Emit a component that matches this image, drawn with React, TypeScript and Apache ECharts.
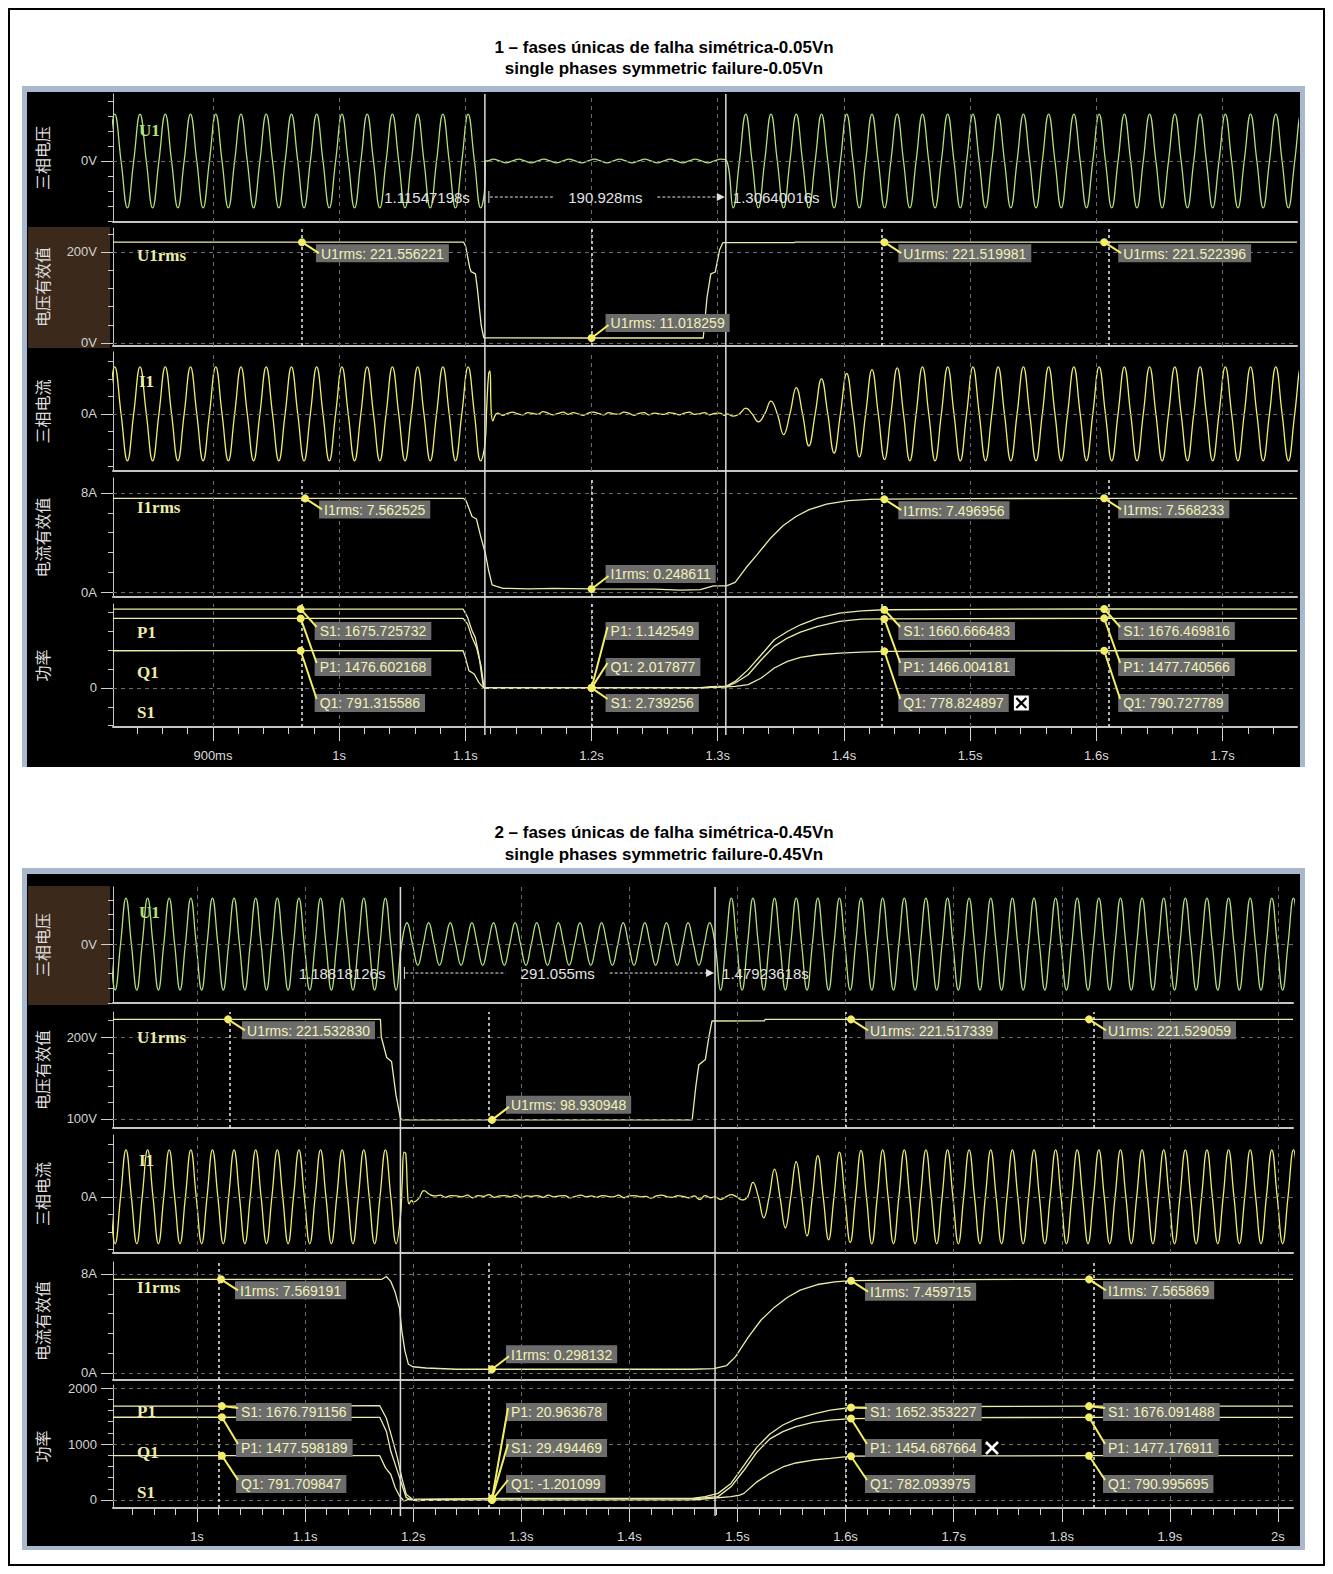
import React, { useEffect, useRef } from "react";
import * as echarts from "echarts";

type Pt = [number, number];
interface Piece { from: number; to: number; crests: number[] }

/* ================= Scope A : symmetric dip to 0.05 Vn ================= */
const A_TITLE = ["1 – fases únicas de falha simétrica-0.05Vn", "single phases symmetric failure-0.05Vn"];
const A_TIME_MIN = 0.8208;
const A_TIME_MAX = 1.759;
const A_MAJOR_TICKS = [0.9, 1.0, 1.1, 1.2, 1.3, 1.4, 1.5, 1.6, 1.7];
const A_MAJOR_LABELS = ["900ms", "1s", "1.1s", "1.2s", "1.3s", "1.4s", "1.5s", "1.6s", "1.7s"];
const A_CURSORS = [1.11547198, 1.30640016];
const A_CURSOR_LABELS = ["1.11547198s", "190.928ms", "1.30640016s"];
const A_CREST0 = 0.8222;

// phase voltage U1: crest magnitude per half cycle (V)
const A_U1_PIECES: Piece[] = [
  { from: 0.81, to: 1.1155, crests: [313] },
  { from: 1.1158, to: 1.3064, crests: [12] },
  { from: 1.3064, to: 1.77, crests: [313] },
];
const A_U1_EDGES: Pt[] = [[1.1155, -160], [1.1158, 0]];

// phase current I1 (A)
const A_I1_PIECES: Piece[] = [
  { from: 0.81, to: 1.1145, crests: [10.7] },
  { from: 1.3064, to: 1.77, crests: [0.5, 1.3, 1.8, 2.9, 4.7, 6.0, 7.3, 8.0, 8.9, 9.2, 9.8, 10.1, 10.4, 10.5, 10.7] },
];
const A_I1_EDGES: Pt[] = [[1.1155, -7], [1.117, 2], [1.1185, 9.2], [1.1195, 9.8], [1.1205, 0.6], [1.1218, -1.6], [1.1235, -0.4]];
const A_I1_FAULT_START = 1.1255;
const A_I1_FAULT_STEP = 0.004;
const A_I1_FAULT = [0.2, -0.3, 0.1, 0.4, 0.0, -0.2, 0.3, 0.1, -0.1, 0.5, 0.2, -0.2, 0.1, 0.4, -0.1, 0.3, 0.0, -0.3, 0.2, 0.4, 0.1, -0.2, 0.3, 0.0, -0.1, 0.4, 0.2, -0.3, 0.1, 0.3, -0.2, 0.2, 0.0, -0.1, 0.3, 0.1, -0.2, 0.2, 0.4, -0.1, 0.0, 0.3, -0.2, 0.1, 0.2, -0.3];

const A_U1RMS: Pt[] = [
  [0.8208, 221.55], [0.9705, 221.556221], [1.0987, 221.55], [1.1003, 212], [1.1035, 165], [1.1045, 157], [1.108, 152],
  [1.1095, 120], [1.1125, 40], [1.1146, 11.5], [1.2, 11.018259], [1.2885, 11.0], [1.2915, 100], [1.2945, 152],
  [1.298, 156], [1.3015, 205], [1.304, 220.5], [1.3605, 220.6], [1.3615, 221.5], [1.432, 221.519981],
  [1.6062, 221.522396], [1.759, 221.52],
];
const A_I1RMS: Pt[] = [
  [0.8208, 7.56], [0.973, 7.562525], [1.0985, 7.56], [1.1005, 7.4], [1.1053, 6.1], [1.1088, 5.9], [1.1124, 4.4],
  [1.1159, 3.1], [1.1184, 1.76], [1.1212, 0.58], [1.1247, 0.45], [1.13, 0.3], [1.15, 0.26], [1.17, 0.3], [1.2, 0.248611],
  [1.25, 0.24], [1.27, 0.15], [1.2862, 0.2], [1.2966, 0.5], [1.3069, 0.5], [1.3138, 0.78], [1.3224, 1.96], [1.331, 3.0],
  [1.3414, 4.3], [1.3517, 5.35], [1.362, 6.1], [1.3724, 6.65], [1.3862, 7.1], [1.4034, 7.38], [1.4206, 7.48],
  [1.432, 7.496956], [1.5, 7.55], [1.6062, 7.568233], [1.759, 7.566],
];
const A_S1: Pt[] = [
  [0.8208, 1676], [0.9695, 1675.725732], [1.0982, 1676], [1.1018, 1499], [1.1053, 1216], [1.1078, 1075], [1.1106, 721],
  [1.1141, 50], [1.1159, 0], [1.2, 2.739256], [1.2862, 5], [1.295, 30], [1.3069, 40], [1.3138, 140], [1.3241, 390],
  [1.3345, 706], [1.3448, 1024], [1.3552, 1200], [1.3655, 1342], [1.3793, 1483], [1.3965, 1589], [1.4138, 1638],
  [1.432, 1660.666483], [1.5, 1670], [1.6062, 1676.469816], [1.759, 1676],
];
const A_P1: Pt[] = [
  [0.8208, 1477], [0.9695, 1476.602168], [1.0982, 1477], [1.1018, 1357], [1.1053, 1075], [1.1088, 862], [1.1124, 474],
  [1.1148, 10], [1.116, 0], [1.2, 1.142549], [1.2862, 3], [1.3069, 30], [1.3138, 106], [1.3241, 282], [1.3345, 600],
  [1.3448, 883], [1.3552, 1060], [1.3655, 1186], [1.3793, 1306], [1.3965, 1412], [1.4138, 1462], [1.432, 1466.004181],
  [1.5, 1474], [1.6062, 1477.740566], [1.759, 1477],
];
const A_Q1: Pt[] = [
  [0.8208, 791], [0.9695, 791.315586], [1.0982, 791], [1.1, 650], [1.1028, 368], [1.107, 297], [1.1106, 120],
  [1.1141, 14], [1.116, 0], [1.2, 2.017877], [1.2862, 2], [1.3069, 25], [1.3138, 35], [1.3241, 70], [1.3345, 212],
  [1.3448, 424], [1.3552, 565], [1.3655, 650], [1.3793, 706], [1.3965, 741], [1.4138, 763], [1.432, 778.824897],
  [1.5, 786], [1.6062, 790.727789], [1.759, 791],
];

// cursor readouts
const A_U1RMS_MARK_T = [0.9705, 1.2, 1.432, 1.6062];
const A_U1RMS_MARK_V = [221.556221, 11.018259, 221.519981, 221.522396];
const A_I1RMS_MARK_T = [0.973, 1.2, 1.432, 1.6062];
const A_I1RMS_MARK_V = [7.562525, 0.248611, 7.496956, 7.568233];
const A_PWR_MARK_T = [0.9695, 1.2, 1.432, 1.6062];
const A_S1_MARK = [1675.725732, 2.739256, 1660.666483, 1676.469816];
const A_P1_MARK = [1476.602168, 1.142549, 1466.004181, 1477.740566];
const A_Q1_MARK = [791.315586, 2.017877, 778.824897, 790.727789];
const A_PWR_ORDER = [["S1", "P1", "Q1"], ["P1", "Q1", "S1"], ["S1", "P1", "Q1"], ["S1", "P1", "Q1"]];

/* ================= Scope B : symmetric dip to 0.45 Vn ================= */
const B_TITLE = ["2 – fases únicas de falha simétrica-0.45Vn", "single phases symmetric failure-0.45Vn"];
const B_TIME_MIN = 0.9223;
const B_TIME_MAX = 2.0139;
const B_MAJOR_TICKS = [1.0, 1.1, 1.2, 1.3, 1.4, 1.5, 1.6, 1.7, 1.8, 1.9, 2.0];
const B_MAJOR_LABELS = ["1s", "1.1s", "1.2s", "1.3s", "1.4s", "1.5s", "1.6s", "1.7s", "1.8s", "1.9s", "2s"];
const B_CURSORS = [1.18818126, 1.47923618];
const B_CURSOR_LABELS = ["1.18818126s", "291.055ms", "1.47923618s"];
const B_CREST0 = 0.9343;

const B_U1_PIECES: Piece[] = [
  { from: 0.91, to: 1.1882, crests: [313] },
  { from: 1.1882, to: 1.4792, crests: [145] },
  { from: 1.4792, to: 2.03, crests: [313] },
];
const B_U1_EDGES: Pt[] = [];

const B_I1_PIECES: Piece[] = [
  { from: 0.91, to: 1.1882, crests: [10.7] },
  { from: 1.4792, to: 2.03, crests: [0.6, 0.5, 0.7, 3.3, 4.8, 6.3, 7.1, 8.0, 8.9, 9.4, 9.8, 10.2, 10.4, 10.6, 10.7] },
];
const B_I1_EDGES: Pt[] = [[1.1882, -4.5], [1.1898, 3], [1.1915, 10.2], [1.1932, 9.8], [1.1948, 1.0], [1.1962, -1.6], [1.1985, -0.8]];
const B_I1_FAULT_START = 1.2;
const B_I1_FAULT_STEP = 0.005;
const B_I1_FAULT = [-1.2, -0.4, 1.4, 0.6, 0.2, 0.4, -0.1, 0.3, 0.2, 0.0, 0.4, -0.2, 0.3, 0.1, 0.5, -0.1, 0.2, 0.3, 0.0, 0.4, -0.2, 0.2, 0.1, 0.3, -0.1, 0.4, 0.0, 0.2, 0.3, -0.2, 0.1, 0.4, 0.0, 0.2, -0.1, 0.3, 0.1, 0.0, 0.4, -0.2, 0.2, 0.3, 0.0, 0.1, -0.3, 0.2, 0.4, 0.0, -0.1, 0.3, 0.1, -0.2, 0.2, -0.6, 0.3, -0.2];

const B_U1RMS: Pt[] = [
  [0.9223, 221.53], [1.0287, 221.53283], [1.1697, 221.5], [1.1705, 200], [1.1755, 175], [1.18, 170], [1.1841, 129],
  [1.1882, 101], [1.19, 99], [1.2729, 98.930948], [1.4581, 99], [1.4615, 140], [1.4642, 166], [1.4703, 172.5],
  [1.4735, 200], [1.4764, 219.5], [1.525, 219.6], [1.5255, 221.5], [1.605, 221.517339], [1.8252, 221.529059],
  [2.0139, 221.52],
];
const B_I1RMS: Pt[] = [
  [0.9223, 7.57], [1.0222, 7.569191], [1.1711, 7.57], [1.1752, 7.8], [1.1793, 7.4], [1.1834, 6.5], [1.1874, 5.2],
  [1.1895, 3.4], [1.1923, 1.8], [1.1956, 0.7], [1.1997, 0.5], [1.2119, 0.4], [1.24, 0.3], [1.2729, 0.298132],
  [1.458, 0.3], [1.478, 0.35], [1.49, 0.6], [1.498, 1.3], [1.51, 2.9], [1.522, 4.3], [1.534, 5.3], [1.546, 6.1],
  [1.558, 6.7], [1.574, 7.15], [1.59, 7.36], [1.605, 7.459715], [1.7, 7.55], [1.8252, 7.565869], [2.0139, 7.566],
];
const B_S1: Pt[] = [
  [0.9223, 1676.8], [1.0231, 1676.791156], [1.1691, 1684], [1.1752, 1461], [1.1813, 1047], [1.1854, 751], [1.1895, 396],
  [1.1936, 100], [1.1976, 40], [1.1997, 0], [1.205, -15], [1.21, 5], [1.2729, 29.494469], [1.458, 30], [1.47, 59],
  [1.482, 118], [1.494, 295], [1.506, 619], [1.518, 944], [1.53, 1180], [1.542, 1339], [1.554, 1445], [1.57, 1534],
  [1.586, 1605], [1.605, 1652.353227], [1.7, 1670], [1.8252, 1676.091488], [2.0139, 1676],
];
const B_P1: Pt[] = [
  [0.9223, 1477.6], [1.0231, 1477.598189], [1.1691, 1477], [1.1752, 1225], [1.1793, 870], [1.1854, 515], [1.1895, 278],
  [1.1936, 41], [1.1976, 10], [1.205, 15], [1.2729, 20.963678], [1.458, 20], [1.482, 60], [1.494, 236], [1.506, 531],
  [1.518, 855], [1.53, 1091], [1.542, 1221], [1.554, 1310], [1.57, 1386], [1.586, 1428], [1.605, 1454.687664],
  [1.7, 1470], [1.8252, 1477.176911], [2.0139, 1477],
];
const B_Q1: Pt[] = [
  [0.9223, 791.7], [1.0231, 791.709847], [1.1691, 791], [1.1744, 574], [1.1793, 455], [1.1834, 219], [1.1874, 71],
  [1.1915, -18], [1.1956, 10], [1.2, -5], [1.2729, -1.201099], [1.458, 0], [1.494, 59], [1.502, 88], [1.506, 118],
  [1.518, 324], [1.53, 472], [1.542, 590], [1.554, 661], [1.57, 714], [1.586, 743], [1.605, 782.093975], [1.7, 788],
  [1.8252, 790.995695], [2.0139, 791],
];

const B_U1RMS_MARK_T = [1.0287, 1.2729, 1.605, 1.8252];
const B_U1RMS_MARK_V = [221.53283, 98.930948, 221.517339, 221.529059];
const B_I1RMS_MARK_T = [1.0222, 1.2729, 1.605, 1.8252];
const B_I1RMS_MARK_V = [7.569191, 0.298132, 7.459715, 7.565869];
const B_PWR_MARK_T = [1.0231, 1.2729, 1.605, 1.8252];
const B_S1_MARK = [1676.791156, 29.494469, 1652.353227, 1676.091488];
const B_P1_MARK = [1477.598189, 20.963678, 1454.687664, 1477.176911];
const B_Q1_MARK = [791.709847, -1.201099, 782.093975, 790.995695];
const B_PWR_ORDER = [["S1", "P1", "Q1"], ["P1", "S1", "Q1"], ["S1", "P1", "Q1"], ["S1", "P1", "Q1"]];

/* ================= styling / layout ================= */
const W = 1317;
const H = 1558;
const OFF = 8; // body margin: layout numbers below are page coordinates
const px = (v: number) => v - OFF;
const PLOT_LEFT = 113;
const HALF_PERIOD = 0.01;

const FONT = '"Liberation Sans", Arial, sans-serif';
const SERIF = '"Liberation Serif", "DejaVu Serif", serif';
const CJK = '"Noto Sans CJK SC", "Noto Sans CJK JP", sans-serif';

const C_GREEN = "#b2e27a";
const C_WAVE_Y = "#eeee6c";
const C_RMS = "#ececa8";
const C_DOT = "#f4ee66";
const C_BOX = "#6c6c6c";
const C_BOX_TEXT = "#f2f2b6";
const C_GRID = "#6a6a6a";
const C_AXIS = "#c4c4c4";
const C_FRAME = "#a9b8cc";
const C_HILITE = "#3b2a1c";

interface Row {
  top: number; bottom: number; min: number; max: number;
  majors: number[]; minors: number[]; unit: string; name: string;
  tags: { text: string; x: number; dy: number; color: string }[];
}

const A_ROWS: Row[] = [
  { top: 94, bottom: 222, min: -407, max: 447, majors: [0], minors: [-400, -300, -200, -100, 100, 200, 300, 400], unit: "V", name: "三相电压", tags: [{ text: "U1", x: 139, dy: 36, color: C_GREEN }] },
  { top: 228, bottom: 346, min: -6.6, max: 252.7, majors: [0, 200], minors: [40, 80, 120, 160, 240], unit: "V", name: "电压有效值", tags: [{ text: "U1rms", x: 137, dy: 27, color: C_RMS }] },
  { top: 352, bottom: 471, min: -13.0, max: 14.1, majors: [0], minors: [-12, -8, -4, 4, 8, 12], unit: "A", name: "三相电流", tags: [{ text: "I1", x: 139, dy: 29, color: C_RMS }] },
  { top: 478, bottom: 597, min: -0.4, max: 9.21, majors: [0, 8], minors: [1.6, 3.2, 4.8, 6.4], unit: "A", name: "电流有效值", tags: [{ text: "I1rms", x: 137, dy: 29, color: C_RMS }] },
  { top: 604, bottom: 727, min: -828, max: 1783, majors: [0], minors: [-800, -400, 400, 800, 1200, 1600], unit: "", name: "功率", tags: [{ text: "P1", x: 137, dy: 28, color: C_RMS }, { text: "Q1", x: 137, dy: 68, color: C_RMS }, { text: "S1", x: 137, dy: 108, color: C_RMS }] },
];
const B_ROWS: Row[] = [
  { top: 887, bottom: 1003, min: -401, max: 388, majors: [0], minors: [-400, -300, -200, -100, 100, 200, 300], unit: "V", name: "三相电压", tags: [{ text: "U1", x: 139, dy: 25, color: C_GREEN }] },
  { top: 1012, bottom: 1128, min: 89, max: 230.5, majors: [100, 200], minors: [120, 140, 160, 180, 220], unit: "V", name: "电压有效值", tags: [{ text: "U1rms", x: 137, dy: 25, color: C_RMS }] },
  { top: 1135, bottom: 1253, min: -12.8, max: 14.1, majors: [0], minors: [-12, -8, -4, 4, 8, 12], unit: "A", name: "三相电流", tags: [{ text: "I1", x: 139, dy: 25, color: C_RMS }] },
  { top: 1262, bottom: 1380, min: -0.57, max: 8.97, majors: [0, 8], minors: [1.6, 3.2, 4.8, 6.4], unit: "A", name: "电流有效值", tags: [{ text: "I1rms", x: 137, dy: 25, color: C_RMS }] },
  { top: 1385, bottom: 1508, min: -143, max: 2054, majors: [0, 1000, 2000], minors: [200, 400, 600, 800, 1200, 1400, 1600, 1800], unit: "", name: "功率", tags: [{ text: "P1", x: 137, dy: 26, color: C_RMS }, { text: "Q1", x: 137, dy: 67, color: C_RMS }, { text: "S1", x: 137, dy: 107, color: C_RMS }] },
];

function buildWave(crest0: number, pieces: Piece[], edges: Pt[], noiseStart: number, noiseStep: number, noise: number[]): Pt[] {
  const quarter = HALF_PERIOD / 2;
  const pts: Pt[] = [];
  pieces.forEach((p) => {
    let q = Math.ceil((p.from - crest0) / quarter - 1e-7);
    let n = 0;
    for (;;) {
      const t = crest0 + q * quarter;
      if (t >= p.to - 1e-7) break;
      if (q % 2 === 0) {
        const k = Math.abs(q / 2);
        const a = p.crests[Math.min(n, p.crests.length - 1)];
        n++;
        pts.push([t, k % 2 === 0 ? a : -a]);
      } else {
        pts.push([t, 0]);
      }
      q++;
    }
  });
  const noisePts: Pt[] = noise.map((v, i) => [noiseStart + i * noiseStep, v]);
  return pts.concat(edges, noisePts).sort((a, b) => a[0] - b[0]);
}

const PANELS = [
  {
    title: A_TITLE, titleY: [47, 68], frameTop: 86, blackTop: 92, blackBottom: 767, frameBottom: 767,
    plotRight: 1297, tmin: A_TIME_MIN, tmax: A_TIME_MAX, majors: A_MAJOR_TICKS, majorLabels: A_MAJOR_LABELS,
    cursors: A_CURSORS, cursorLabels: A_CURSOR_LABELS, measureY: 197, hilite: 1, rows: A_ROWS,
    u1: buildWave(A_CREST0, A_U1_PIECES, A_U1_EDGES, 0, 0, []),
    i1: buildWave(A_CREST0, A_I1_PIECES, A_I1_EDGES, A_I1_FAULT_START, A_I1_FAULT_STEP, A_I1_FAULT),
    u1rms: A_U1RMS, i1rms: A_I1RMS, s1: A_S1, p1: A_P1, q1: A_Q1,
    uMarkT: A_U1RMS_MARK_T, uMarkV: A_U1RMS_MARK_V, iMarkT: A_I1RMS_MARK_T, iMarkV: A_I1RMS_MARK_V,
    pMarkT: A_PWR_MARK_T, pMark: { S1: A_S1_MARK, P1: A_P1_MARK, Q1: A_Q1_MARK } as Record<string, number[]>, pOrder: A_PWR_ORDER,
    closeIcon: { marker: 2, dx: 137, boxed: true },
  },
  {
    title: B_TITLE, titleY: [832, 854], frameTop: 868, blackTop: 874, blackBottom: 1546, frameBottom: 1550,
    plotRight: 1293, tmin: B_TIME_MIN, tmax: B_TIME_MAX, majors: B_MAJOR_TICKS, majorLabels: B_MAJOR_LABELS,
    cursors: B_CURSORS, cursorLabels: B_CURSOR_LABELS, measureY: 973, hilite: 0, rows: B_ROWS,
    u1: buildWave(B_CREST0, B_U1_PIECES, B_U1_EDGES, 0, 0, []),
    i1: buildWave(B_CREST0, B_I1_PIECES, B_I1_EDGES, B_I1_FAULT_START, B_I1_FAULT_STEP, B_I1_FAULT),
    u1rms: B_U1RMS, i1rms: B_I1RMS, s1: B_S1, p1: B_P1, q1: B_Q1,
    uMarkT: B_U1RMS_MARK_T, uMarkV: B_U1RMS_MARK_V, iMarkT: B_I1RMS_MARK_T, iMarkV: B_I1RMS_MARK_V,
    pMarkT: B_PWR_MARK_T, pMark: { S1: B_S1_MARK, P1: B_P1_MARK, Q1: B_Q1_MARK } as Record<string, number[]>, pOrder: B_PWR_ORDER,
    closeIcon: { marker: 2, dx: 141, boxed: false },
  },
];

function minorTicks(tmin: number, tmax: number, majors: number[]): number[] {
  const out: number[] = [];
  const start = Math.ceil(tmin / 0.02 - 1e-6);
  for (let i = start; i * 0.02 <= tmax + 1e-9; i++) {
    const v = Math.round(i * 0.02 * 1000) / 1000;
    if (!majors.some((m) => Math.abs(m - v) < 1e-6)) out.push(v);
  }
  return out;
}

interface Meta { xAxis0: number; rowSeries: number[]; pwrSeries: Record<string, number> }

function buildOption() {
  const grid: any[] = [];
  const xAxis: any[] = [];
  const yAxis: any[] = [];
  const series: any[] = [];
  const metas: Meta[] = [];

  PANELS.forEach((P) => {
    const meta: Meta = { xAxis0: xAxis.length, rowSeries: [], pwrSeries: {} };
    P.rows.forEach((row, ri) => {
      const gi = grid.length;
      const last = ri === P.rows.length - 1;
      grid.push({ left: px(PLOT_LEFT), top: px(row.top), width: P.plotRight - PLOT_LEFT, height: row.bottom - row.top, show: false, containLabel: false });
      const xi = xAxis.length;
      xAxis.push({
        type: "value", gridIndex: gi, min: P.tmin, max: P.tmax, position: "bottom", z: 1,
        axisLine: { show: true, onZero: false, lineStyle: { color: C_AXIS, width: 2 } },
        axisTick: last ? { show: true, customValues: P.majors, length: 14, inside: false, lineStyle: { color: "#d4d4d4", width: 1 } } : { show: false },
        axisLabel: last ? {
          show: true, customValues: P.majors, margin: 22, color: "#dadada", fontSize: 13, fontFamily: FONT,
          formatter: (v: number) => P.majorLabels[P.majors.findIndex((m) => Math.abs(m - v) < 1e-6)] ?? "",
        } : { show: false },
        splitLine: { show: false },
      });
      if (last) {
        xAxis.push({
          type: "value", gridIndex: gi, min: P.tmin, max: P.tmax, position: "bottom",
          axisLine: { show: false, onZero: false },
          axisTick: { show: true, customValues: minorTicks(P.tmin, P.tmax, P.majors), length: 7, lineStyle: { color: "#d4d4d4", width: 1 } },
          axisLabel: { show: false }, splitLine: { show: false },
        });
      }
      const yi = yAxis.length;
      const fmt = (v: number) => `${Math.round(v)}${row.unit}`;
      yAxis.push({
        type: "value", gridIndex: gi, min: row.min, max: row.max, position: "left",
        axisLine: { show: true, onZero: false, lineStyle: { color: C_AXIS, width: 1 } },
        axisTick: { show: true, customValues: row.majors, length: 12, lineStyle: { color: "#d0d0d0" } },
        axisLabel: { show: true, customValues: row.majors, margin: 16, color: "#d4d4d4", fontSize: 13, fontFamily: FONT, formatter: fmt },
        splitLine: { show: false },
      });
      yAxis.push({
        type: "value", gridIndex: gi, min: row.min, max: row.max, position: "left",
        axisLine: { show: false, onZero: false },
        axisTick: { show: true, customValues: row.minors, length: 5, lineStyle: { color: "#c8c8c8" } },
        axisLabel: { show: false }, splitLine: { show: false },
      });

      let markTimes: number[] = [];
      if (ri === 1) markTimes = P.uMarkT;
      if (ri === 3) markTimes = P.iMarkT;
      if (ri === 4) markTimes = P.pMarkT;

      const markLine = {
        silent: true, symbol: ["none", "none"], animation: false, label: { show: false },
        lineStyle: { color: C_GRID, type: [4, 4], width: 1 },
        emphasis: { disabled: true },
        data: [
          ...P.majors.map((t) => ({ xAxis: t })),
          ...row.majors.map((v) => ({ yAxis: v })),
          ...markTimes.map((t) => ({ xAxis: t, lineStyle: { color: "#eeeeee", type: [3, 3], width: 1.5 } })),
        ],
      };

      const base = { type: "line", xAxisIndex: xi, yAxisIndex: yi, showSymbol: false, symbol: "none", silent: true, animation: false, clip: true, z: 3 };
      if (ri === 0 || ri === 2) {
        meta.rowSeries.push(series.length);
        series.push({ ...base, data: ri === 0 ? P.u1 : P.i1, smooth: 0.45, lineStyle: { color: ri === 0 ? C_GREEN : C_WAVE_Y, width: 1.3 }, markLine });
      } else if (ri === 1 || ri === 3) {
        meta.rowSeries.push(series.length);
        series.push({ ...base, data: ri === 1 ? P.u1rms : P.i1rms, lineStyle: { color: C_RMS, width: 1.3 }, markLine });
      } else {
        meta.rowSeries.push(series.length);
        meta.pwrSeries.S1 = series.length;
        series.push({ ...base, data: P.s1, lineStyle: { color: C_RMS, width: 1.3 }, markLine });
        meta.pwrSeries.P1 = series.length;
        series.push({ ...base, data: P.p1, lineStyle: { color: C_RMS, width: 1.3 } });
        meta.pwrSeries.Q1 = series.length;
        series.push({ ...base, data: P.q1, lineStyle: { color: C_RMS, width: 1.3 } });
      }
    });
    metas.push(meta);
  });

  return {
    option: { animation: false, backgroundColor: "transparent", grid, xAxis, yAxis, series },
    metas,
  };
}

function text(x: number, y: number, t: string, fill: string, font: string, align = "left", valign = "middle", extra: any = {}) {
  return {
    type: "text", x, y, silent: true, z: extra.z ?? 40, rotation: extra.rotation ?? 0,
    style: {
      text: t, fill, font, align, verticalAlign: valign, textAlign: align, textVerticalAlign: valign,
      ...(extra.style || {}),
    },
  };
}
function rect(x: number, y: number, w: number, h: number, fill: string, z = -1, stroke?: string, lw = 0) {
  return { type: "rect", silent: true, z, shape: { x, y, width: w, height: h }, style: stroke ? { fill, stroke, lineWidth: lw } : { fill } };
}
function line(x1: number, y1: number, x2: number, y2: number, stroke: string, lw: number, dash?: number[], z = 40) {
  return { type: "line", silent: true, z, shape: { x1, y1, x2, y2 }, style: { stroke, lineWidth: lw, lineDash: dash } };
}

function buildGraphics(chart: any, metas: Meta[]) {
  const els: any[] = [];
  // page border
  els.push(rect(1, 1, W - 2, H - 2, "#ffffff", -3, "#000000", 2));

  PANELS.forEach((P, pi) => {
    const meta = metas[pi];
    // titles
    els.push(text(px(664), px(P.titleY[0]), P.title[0], "#000", `bold 17px ${FONT}`, "center"));
    els.push(text(px(664), px(P.titleY[1]), P.title[1], "#000", `bold 17px ${FONT}`, "center"));
    // scope frame
    els.push(rect(px(22), px(P.frameTop), 1305 - 22, P.frameBottom - P.frameTop, C_FRAME, -2));
    els.push(rect(px(27), px(P.blackTop), 1300 - 27, P.blackBottom - P.blackTop, "#000", -2));
    const hr = P.rows[P.hilite];
    els.push(rect(px(28), px(hr.top - 1), 82, hr.bottom - hr.top + 3, C_HILITE, -1));

    P.rows.forEach((row) => {
      const cy = (row.top + row.bottom) / 2;
      els.push(text(px(42), px(cy), row.name, "#dedede", `16px ${CJK}`, "center", "middle", { rotation: Math.PI / 2, z: 5 }));
      row.tags.forEach((tg) => {
        els.push(text(px(tg.x), px(row.top + tg.dy), tg.text, tg.color, `bold 17px ${SERIF}`, "left", "middle", { z: 5 }));
      });
    });

    // time cursors spanning every trace
    const xs = P.cursors.map((t) => chart.convertToPixel({ xAxisIndex: meta.xAxis0 }, t) as number);
    const top = px(P.rows[0].top);
    const bot = px(P.rows[P.rows.length - 1].bottom + 8);
    xs.forEach((x) => els.push(line(x, top, x, bot, "#dcdcdc", 1.5, undefined, 20)));

    // interval measurement
    const my = px(P.measureY);
    const mid = (xs[0] + xs[1]) / 2;
    const mfont = `15px ${FONT}`;
    els.push(text(xs[0] - 15, my, P.cursorLabels[0], "#e2e2e2", mfont, "right"));
    els.push(line(xs[0] + 4, my - 6, xs[0] + 4, my + 6, "#e2e2e2", 1));
    els.push(line(xs[0] + 5, my, mid - 52, my, "#e2e2e2", 1, [3, 2]));
    els.push(text(mid, my, P.cursorLabels[1], "#e2e2e2", mfont, "center"));
    els.push(line(mid + 52, my, xs[1] - 7, my, "#e2e2e2", 1, [3, 2]));
    els.push({ type: "polygon", silent: true, z: 40, shape: { points: [[xs[1] - 9, my - 4], [xs[1] - 1, my], [xs[1] - 9, my + 4]] }, style: { fill: "#e2e2e2" } });
    els.push(text(xs[1] + 7, my, P.cursorLabels[2], "#e2e2e2", mfont, "left"));

    const boxStyle = { backgroundColor: C_BOX, padding: [2, 5, 1, 5], lineHeight: 15 };
    const bfont = `14px ${FONT}`;

    // rms readouts
    const rmsMarks = (seriesIndex: number, row: Row, name: string, times: number[], values: number[]) => {
      const midY = px((row.top + row.bottom) / 2);
      times.forEach((t, i) => {
        const v = values[i];
        const [x, y] = chart.convertToPixel({ seriesIndex }, [t, v]);
        const label = `${name}: ${v.toFixed(6)}`;
        const bx = x + 14;
        if (y < midY) {
          els.push(line(x, y, bx + 3, y + 11, C_DOT, 2, undefined, 45));
          els.push(text(bx, y + 2, label, C_BOX_TEXT, bfont, "left", "top", { z: 44, style: boxStyle }));
        } else {
          els.push(line(x, y, bx + 3, y - 13, C_DOT, 2, undefined, 45));
          els.push(text(bx, y - 6, label, C_BOX_TEXT, bfont, "left", "bottom", { z: 44, style: boxStyle }));
        }
        els.push({ type: "circle", silent: true, z: 46, shape: { cx: x, cy: y, r: 4 }, style: { fill: C_DOT } });
      });
    };
    rmsMarks(meta.rowSeries[1], P.rows[1], "U1rms", P.uMarkT, P.uMarkV);
    rmsMarks(meta.rowSeries[3], P.rows[3], "I1rms", P.iMarkT, P.iMarkV);

    // power readouts
    const prow = P.rows[4];
    P.pMarkT.forEach((t, i) => {
      const order = P.pOrder[i];
      let boxX = 0;
      let boxY = 0;
      order.forEach((nm, k) => {
        const v = P.pMark[nm][i];
        const [x, y] = chart.convertToPixel({ seriesIndex: meta.pwrSeries[nm] }, [t, v]);
        const cy = px(prow.top + 27 + 36 * k);
        boxX = x;
        boxY = cy;
        els.push(line(x, y, x + 16, cy - 4, C_DOT, 2, undefined, 45));
        els.push(text(x + 14, cy, `${nm}: ${v.toFixed(6)}`, C_BOX_TEXT, bfont, "left", "middle", { z: 44, style: boxStyle }));
        els.push({ type: "circle", silent: true, z: 46, shape: { cx: x, cy: y, r: 4 }, style: { fill: C_DOT } });
      });
      if (i === P.closeIcon.marker) {
        const ix = boxX + P.closeIcon.dx;
        const iy = P.closeIcon.boxed ? boxY : px(prow.top + 27 + 36 * 1);
        if (P.closeIcon.boxed) {
          els.push(rect(ix - 8, iy - 8, 16, 16, "#ffffff", 47, "#000", 1));
          els.push(line(ix - 5, iy - 5, ix + 5, iy + 5, "#000", 2.2, undefined, 48));
          els.push(line(ix + 5, iy - 5, ix - 5, iy + 5, "#000", 2.2, undefined, 48));
        } else {
          els.push(line(ix - 6, iy - 6, ix + 6, iy + 6, "#ffffff", 2.6, undefined, 48));
          els.push(line(ix + 6, iy - 6, ix - 6, iy + 6, "#ffffff", 2.6, undefined, 48));
        }
      }
    });
  });
  return els;
}

export default function App() {
  const ref = useRef<HTMLDivElement>(null);
  useEffect(() => {
    if (!ref.current) return;
    const chart = echarts.init(ref.current, undefined, { renderer: "svg" });
    const { option, metas } = buildOption();
    chart.setOption(option as any);
    chart.setOption({ graphic: { elements: buildGraphics(chart, metas) } } as any);
    return () => chart.dispose();
  }, []);
  return <div ref={ref} style={{ width: W, height: H }} />;
}
